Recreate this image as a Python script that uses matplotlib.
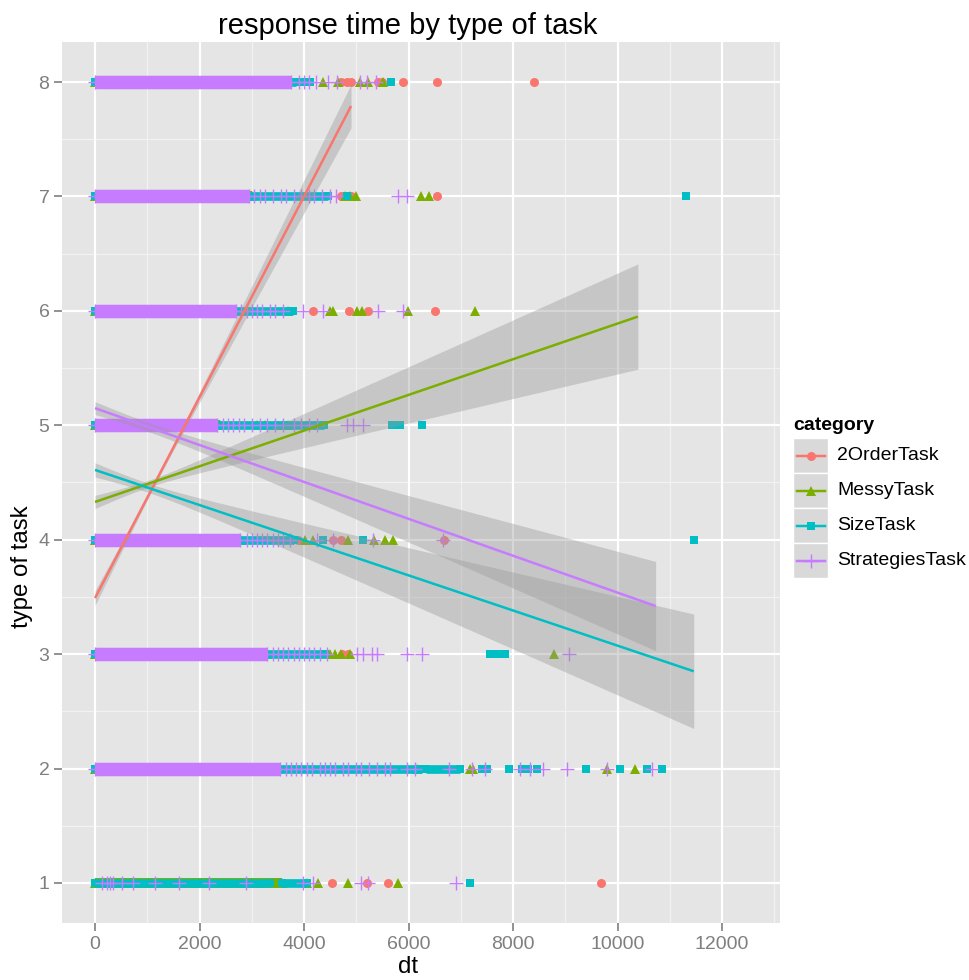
import numpy as np
import matplotlib
matplotlib.use("Agg")
import matplotlib.pyplot as plt

plt.rcParams['font.family'] = ['Liberation Sans', 'DejaVu Sans']

# ---------------- data ----------------
categories = ["2OrderTask", "MessyTask", "SizeTask", "StrategiesTask"]
colors = ["#F8766D", "#7CAE00", "#00BFC4", "#C77CFF"]
y_ticks = [1, 2, 3, 4, 5, 6, 7, 8]
x_ticks = [0, 2000, 4000, 6000, 8000, 10000, 12000]

# dense runs of responses: (type of task, first dt, last dt)
order_dense = [(2, 0, 3000), (3, 0, 3200), (4, 0, 2700), (5, 0, 2300),
               (6, 0, 2700), (7, 0, 2900), (8, 0, 3700)]
messy_dense = [(1, 0, 3580), (2, 0, 3400), (3, 0, 3300), (4, 0, 2800),
               (5, 0, 2400), (6, 0, 2700), (7, 0, 3000), (8, 0, 3600)]
size_dense = [(1, 0, 3350), (1, 3580, 4060), (2, 0, 6250), (2, 6330, 6990),
              (3, 0, 4400), (4, 0, 3800), (5, 0, 4380), (6, 0, 3780),
              (7, 0, 4450), (8, 0, 3850)]
strat_dense = [(2, 0, 3540), (3, 0, 3290), (4, 0, 2780), (5, 0, 2330),
               (6, 0, 2700), (7, 0, 2950), (8, 0, 3750)]

# isolated responses: dt and type of task
order_dt = [4530, 5210, 5600, 9680,
            4720, 4850,
            3890, 4560, 4710, 6680,
            3480, 3650, 4060, 4200,
            4170, 4860, 5230, 6510,
            4700, 4900, 6540,
            4700, 4830, 4900, 5420, 5500, 5900, 6540, 8400]
order_task = [1, 1, 1, 1,
              3, 3,
              4, 4, 4, 4,
              5, 5, 5, 5,
              6, 6, 6, 6,
              7, 7, 7,
              8, 8, 8, 8, 8, 8, 8, 8]

messy_dt = [4060, 4270, 4840, 5800,
            6160, 7180, 7230, 9800, 10330,
            4500, 4600, 4700, 4880, 8790,
            4020, 4170, 4840, 5330, 5550, 5700,
            3100, 3250, 3450, 3600, 3700,
            3700, 4500, 4560, 5010, 5110, 5990, 7270,
            4780, 4880, 5000, 6230, 6390,
            4370, 4650, 5080, 5230, 5510]
messy_task = [1, 1, 1, 1,
              2, 2, 2, 2, 2,
              3, 3, 3, 3, 3,
              4, 4, 4, 4, 4, 4,
              5, 5, 5, 5, 5,
              6, 6, 6, 6, 6, 6, 6,
              7, 7, 7, 7, 7,
              8, 8, 8, 8, 8]

size_dt = [7180,
           7400, 7500, 7920, 8170, 8280, 8450, 9400, 10050, 10560, 10850,
           7560, 7650, 7750, 7850,
           4360, 5130, 11470,
           5680, 5840, 6260,
           4820, 11320,
           4000, 4120, 5670]
size_task = [1,
             2, 2, 2, 2, 2, 2, 2, 2, 2, 2,
             3, 3, 3, 3,
             4, 4, 4,
             5, 5, 5,
             7, 7,
             8, 8, 8]

strat_dt = [130, 220, 290, 350, 510, 730, 1150, 1610, 2180, 2890, 3990, 4180,
            5100, 5230, 6910,
            3650, 3750, 3850, 3950, 4050, 4150, 4300, 4400, 4500, 4600, 4750,
            4850, 5000, 5100, 5250, 5400, 5550, 5650, 5970, 6120, 6780, 7220,
            7460, 8130, 8330, 8580, 9030, 9800, 10660,
            3400, 3500, 3600, 3700, 3800, 3900, 4000, 4100, 4200, 4300, 4440,
            5010, 5130, 5300, 5390, 5970, 6260, 9070,
            2900, 3000, 3100, 3200, 3300, 3400, 3500, 3600, 3730, 4250, 4550,
            5320, 6660,
            2450, 2550, 2650, 2750, 2850, 3000, 3150, 3300, 3450, 3600, 3800,
            3950, 4100, 4250, 4820, 4940, 5130,
            2800, 2900, 3000, 3100, 3200, 3350, 3450, 3600, 3990, 4370, 5420,
            5900,
            3050, 3150, 3250, 3400, 3550, 3650, 3800, 3950, 4100, 4200, 4350,
            4500, 4620, 5800, 5980,
            3900, 4000, 4100, 4230, 4450, 4640, 5070, 5200, 5380]
strat_task = [1] * 15 + [2] * 29 + [3] * 18 + [4] * 13 + [5] * 17 + \
             [6] * 12 + [7] * 15 + [8] * 9

# linear fits of type of task on dt, with confidence bands
fit_x0 = [0, 0, 0, 0]
fit_x1 = [4900, 10390, 11460, 10730]
fit_y0 = [3.49, 4.33, 4.61, 5.15]
fit_y1 = [7.79, 5.95, 2.85, 3.42]
band_xm = [1200, 1000, 1000, 1000]
band_hm = [0.02, 0.03, 0.04, 0.04]
band_h1 = [0.19, 0.46, 0.50, 0.39]

# ---------------- styling ----------------
W, H = 969, 980
fig = plt.figure(figsize=(W / 100, H / 100), dpi=100)
px = 0.72  # points per pixel at 100 dpi

pl, pr, pt, pb = 62, 780, 42, 923
ax = fig.add_axes([pl / W, 1 - pb / H, (pr - pl) / W, (pb - pt) / H])
ax.set_facecolor("#E5E5E5")
ax.set_xlim(-632, 13110)
ax.set_ylim(0.65, 8.35)
for s in ax.spines.values():
    s.set_visible(False)

for xv in [1000, 3000, 5000, 7000, 9000, 11000, 13000]:
    ax.axvline(xv, color="#F2F2F2", lw=0.9, zorder=0)
for yv in [1.5, 2.5, 3.5, 4.5, 5.5, 6.5, 7.5]:
    ax.axhline(yv, color="#F2F2F2", lw=0.9, zorder=0)
for xv in x_ticks:
    ax.axvline(xv, color="white", lw=1.6, zorder=0.5)
for yv in y_ticks:
    ax.axhline(yv, color="white", lw=1.6, zorder=0.5)

ax.set_xticks(x_ticks)
ax.set_xticklabels([str(v) for v in x_ticks])
ax.set_yticks(y_ticks)
ax.set_yticklabels([str(v) for v in y_ticks])
ax.tick_params(axis="both", colors="#7F7F7F", labelsize=14, length=6,
               width=1.2, pad=3)
for lab in ax.get_xticklabels() + ax.get_yticklabels():
    lab.set_color("#7F7F7F")

marker_kw = [
    dict(marker="o", ms=9 * px, mew=0),
    dict(marker="^", ms=10 * px, mew=0),
    dict(marker="s", ms=8.7 * px, mew=0),
    dict(marker="+", ms=13.5 * px, mew=1.4 * px),
]
band_lw = [9 * px, 10 * px, 8.7 * px, 13.5 * px]

dense_sets = [order_dense, messy_dense, size_dense, strat_dense]
pt_dt = [order_dt, messy_dt, size_dt, strat_dt]
pt_task = [order_task, messy_task, size_task, strat_task]

z = 2
for i in range(4):
    c = colors[i]
    for (row, lo, hi) in dense_sets[i]:
        ax.plot([lo, hi], [row, row], color=c, lw=band_lw[i],
                solid_capstyle="butt", zorder=z)
        ax.plot([lo, hi], [row, row], ls="none", color=c, mec=c, mfc=c,
                zorder=z, **marker_kw[i])
    ax.plot(pt_dt[i], pt_task[i], ls="none", color=c, mec=c, mfc=c,
            zorder=z + 0.5, **marker_kw[i])
    z += 1

for i in range(4):
    xs = np.linspace(fit_x0[i], fit_x1[i], 120)
    slope = (fit_y1[i] - fit_y0[i]) / (fit_x1[i] - fit_x0[i])
    ys = fit_y0[i] + slope * (xs - fit_x0[i])
    t = (xs - band_xm[i]) / (fit_x1[i] - band_xm[i])
    h = np.sqrt(band_hm[i] ** 2 + (band_h1[i] ** 2 - band_hm[i] ** 2) * t ** 2)
    ax.fill_between(xs, ys - h, ys + h, color="#999999", alpha=0.4, lw=0,
                    zorder=10)
for i in range(4):
    ax.plot([fit_x0[i], fit_x1[i]], [fit_y0[i], fit_y1[i]], color=colors[i],
            lw=2.5 * px, zorder=11, solid_capstyle="butt")

# ---------------- titles ----------------
fig.text(408 / W, 1 - 26 / H, "response time by type of task", ha="center",
         va="center", fontsize=21, color="black")
fig.text(408 / W, 1 - 967 / H, "dt", ha="center", va="center",
         fontsize=17.3, color="black")
fig.text(22 / W, 1 - 567 / H, "type of task", ha="center", va="center",
         rotation=90, fontsize=17.3, color="black")

# ---------------- legend ----------------
lax = fig.add_axes([0, 0, 1, 1], facecolor="none")
lax.set_xlim(0, W)
lax.set_ylim(H, 0)
lax.axis("off")
lax.text(793, 425, "category", fontsize=14, fontweight="bold",
         ha="left", va="center")
key_top = 438
key_h = 35
for i, name in enumerate(categories):
    y0 = key_top + i * key_h
    lax.add_patch(plt.Rectangle((793, y0), 35, key_h, facecolor="#D9D9D9",
                                edgecolor="white", lw=1.0))
    yc = y0 + key_h / 2
    lax.plot([797, 825], [yc, yc], color=colors[i], lw=2.5 * px)
    lax.plot([811], [yc], ls="none", color=colors[i], mec=colors[i],
             mfc=colors[i], **marker_kw[i])
    lax.text(837, yc, name, fontsize=14, ha="left", va="center")

fig.savefig("out.png", dpi=100)
